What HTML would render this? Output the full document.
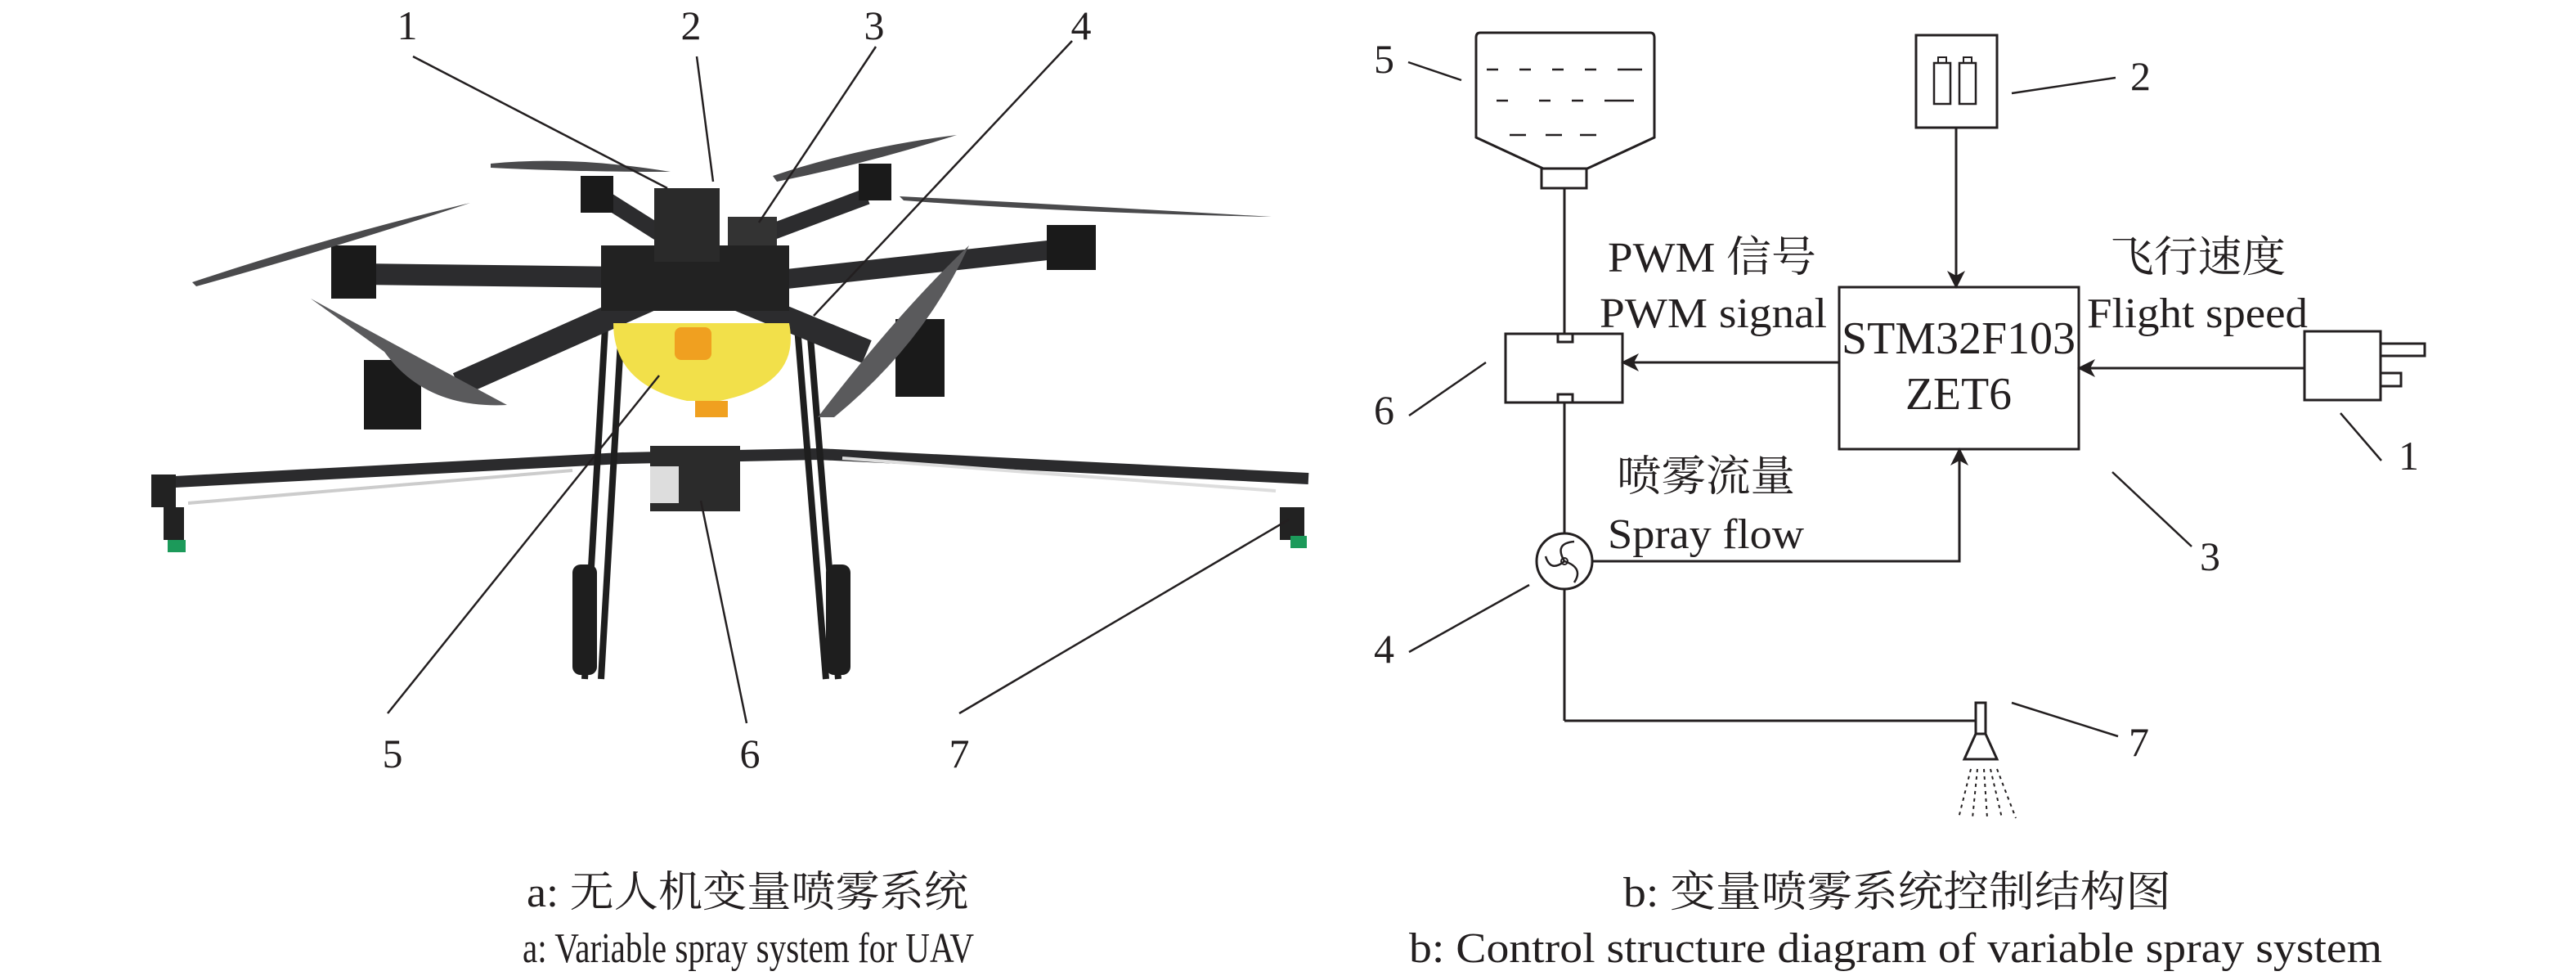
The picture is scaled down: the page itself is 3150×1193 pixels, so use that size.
<!DOCTYPE html>
<html><head><meta charset="utf-8"><style>
html,body{margin:0;padding:0;background:#fff;}
svg{display:block;}
text{font-family:"Liberation Serif","Noto Serif CJK SC",serif;fill:#231f20;}
</style></head><body>
<svg width="3150" height="1193" viewBox="0 0 3150 1193" xmlns="http://www.w3.org/2000/svg">
<defs>
<marker id="ah" markerWidth="22" markerHeight="22" refX="20" refY="11" orient="auto" markerUnits="userSpaceOnUse" viewBox="0 0 22 22">
<path d="M0,0 L22,11 L0,22 L6,11 z" fill="#231f20"/>
</marker>
</defs>

<!-- ===== Left: drone photo sketch ===== -->
<g>
  <path d="M195,590 L760,560 L1000,555 L1600,585" stroke="#2b2b2d" stroke-width="14" fill="none"/>
  <path d="M230,615 L700,575" stroke="#ccc" stroke-width="4" fill="none"/>
  <path d="M1030,560 L1560,600" stroke="#ddd" stroke-width="4" fill="none"/>
  <rect x="185" y="580" width="30" height="40" fill="#222"/>
  <rect x="200" y="620" width="25" height="40" fill="#222"/>
  <rect x="205" y="660" width="22" height="15" fill="#1c9a5a"/>
  <rect x="1565" y="620" width="30" height="40" fill="#222"/>
  <rect x="1578" y="655" width="20" height="15" fill="#1c9a5a"/>
  <path d="M740,400 L715,830 M760,400 L735,830" stroke="#1e1e1e" stroke-width="8"/>
  <path d="M975,400 L1010,830 M990,400 L1025,830" stroke="#1e1e1e" stroke-width="8"/>
  <rect x="700" y="690" width="30" height="135" rx="10" fill="#1e1e1e"/>
  <rect x="1010" y="690" width="30" height="135" rx="10" fill="#1e1e1e"/>
  <path d="M850,340 L440,335" stroke="#2c2c2e" stroke-width="26"/>
  <path d="M830,350 L560,470" stroke="#2c2c2e" stroke-width="30"/>
  <path d="M880,350 L1290,305" stroke="#2c2c2e" stroke-width="24"/>
  <path d="M890,360 L1060,430" stroke="#2c2c2e" stroke-width="30"/>
  <path d="M830,300 L735,240 M900,300 L1060,240" stroke="#2c2c2e" stroke-width="20"/>
  <rect x="405" y="300" width="55" height="65" fill="#1a1a1a"/>
  <rect x="445" y="440" width="70" height="85" fill="#1a1a1a"/>
  <rect x="1280" y="275" width="60" height="55" fill="#1a1a1a"/>
  <rect x="1095" y="390" width="60" height="95" fill="#1a1a1a"/>
  <rect x="710" y="215" width="40" height="45" fill="#1a1a1a"/>
  <rect x="1050" y="200" width="40" height="45" fill="#1a1a1a"/>
  <path d="M235,345 Q400,290 575,248 Q420,300 240,350 z" fill="#4a4a4c"/>
  <path d="M380,365 Q480,420 620,495 Q520,500 470,430 z" fill="#5a5a5c"/>
  <path d="M600,200 Q700,190 820,210 Q700,210 600,205 z" fill="#4a4a4c"/>
  <path d="M945,215 Q1050,180 1170,165 Q1060,200 950,222 z" fill="#4a4a4c"/>
  <path d="M1100,240 Q1300,250 1555,265 Q1300,260 1105,245 z" fill="#4a4a4c"/>
  <path d="M1000,510 Q1100,380 1185,300 Q1130,420 1020,510 z" fill="#5a5a5c"/>
  <rect x="735" y="300" width="230" height="80" fill="#222"/>
  <rect x="800" y="230" width="80" height="90" fill="#2a2a2a"/>
  <rect x="890" y="265" width="60" height="35" fill="#333"/>
  <path d="M750,395 L965,395 Q980,470 880,490 L840,490 Q750,470 750,395 z" fill="#f2e04a"/>
  <rect x="825" y="400" width="45" height="40" rx="8" fill="#f0a020"/>
  <rect x="850" y="490" width="40" height="20" fill="#f0a020"/>
  <rect x="795" y="545" width="110" height="80" fill="#2b2b2b"/>
  <rect x="795" y="570" width="35" height="45" fill="#ddd"/>
</g>

<g stroke="#231f20" stroke-width="2.5">
  <line x1="505" y1="69" x2="816" y2="230"/>
  <line x1="852" y1="69" x2="872" y2="222"/>
  <line x1="1071" y1="57" x2="928" y2="272"/>
  <line x1="1311" y1="50" x2="995" y2="386"/>
  <line x1="474" y1="872" x2="806" y2="459"/>
  <line x1="913" y1="884" x2="857" y2="612"/>
  <line x1="1173" y1="872" x2="1576" y2="635"/>
</g>
<g font-size="50" text-anchor="middle">
  <text x="498" y="48">1</text>
  <text x="845" y="48">2</text>
  <text x="1069" y="48">3</text>
  <text x="1322" y="48">4</text>
  <text x="480" y="938">5</text>
  <text x="917" y="938">6</text>
  <text x="1173" y="938">7</text>
</g>
<text x="914" y="1108" font-size="52" text-anchor="middle" textLength="540" lengthAdjust="spacingAndGlyphs">a: 无人机变量喷雾系统</text>
<text x="915" y="1176" font-size="52" text-anchor="middle" textLength="552" lengthAdjust="spacingAndGlyphs">a:  Variable spray system for UAV</text>

<!-- ===== Right: control diagram ===== -->
<g stroke="#231f20" stroke-width="3" fill="none">
  <path d="M1810,40 L2018,40 Q2023,40 2023,46 L2023,168 L1941,206 L1887,206 L1805,168 L1805,46 Q1805,40 1810,40 z"/>
  <rect x="1885" y="206" width="55" height="24"/>
  <g stroke-width="2.5">
    <path d="M1818,85 h14 M1858,85 h14 M1898,85 h14 M1938,85 h14 M1978,85 h30"/>
    <path d="M1830,123 h14 M1882,123 h14 M1922,123 h14 M1962,123 h36"/>
    <path d="M1846,165 h20 M1890,165 h20 M1932,165 h20"/>
  </g>
  <line x1="1913" y1="230" x2="1913" y2="408"/>
  <rect x="1841" y="408" width="143" height="84"/>
  <rect x="1905" y="408" width="18" height="10"/>
  <rect x="1905" y="482" width="18" height="10"/>
  <line x1="1913" y1="492" x2="1913" y2="652"/>
  <circle cx="1913" cy="686" r="34"/>
  <path d="M1913,686 Q1900,664 1925,662 M1913,686 Q1937,694 1925,712 M1913,686 Q1896,700 1890,680" stroke-width="2.5"/>
  <circle cx="1913" cy="686" r="4" stroke-width="2"/>
  <line x1="1913" y1="720" x2="1913" y2="881"/>
  <line x1="1913" y1="881" x2="2416" y2="881"/>
  <rect x="2416" y="859" width="12" height="38"/>
  <path d="M2416,897 L2428,897 L2442,928 L2402,928 z"/>
  <g stroke-width="2" stroke-dasharray="4,5">
    <line x1="2410" y1="940" x2="2395" y2="1000"/>
    <line x1="2418" y1="940" x2="2412" y2="1000"/>
    <line x1="2426" y1="940" x2="2430" y2="1000"/>
    <line x1="2434" y1="940" x2="2448" y2="1000"/>
    <line x1="2442" y1="940" x2="2465" y2="1000"/>
  </g>
  <rect x="2249" y="351" width="293" height="198"/>
  <rect x="2343" y="43" width="99" height="113"/>
  <rect x="2365" y="77" width="20" height="50" stroke-width="2.5"/>
  <rect x="2370" y="70" width="10" height="7" stroke-width="2"/>
  <rect x="2396" y="77" width="20" height="50" stroke-width="2.5"/>
  <rect x="2401" y="70" width="10" height="7" stroke-width="2"/>
  <rect x="2818" y="405" width="93" height="84"/>
  <rect x="2911" y="420" width="54" height="15"/>
  <rect x="2911" y="456" width="25" height="16"/>
</g>
<g stroke="#231f20" stroke-width="3" fill="none">
  <line x1="2392" y1="156" x2="2392" y2="351" marker-end="url(#ah)"/>
  <line x1="2249" y1="443" x2="1984" y2="443" marker-end="url(#ah)"/>
  <line x1="2818" y1="450" x2="2542" y2="450" marker-end="url(#ah)"/>
  <polyline points="1947,686 2396,686 2396,549" marker-end="url(#ah)"/>
</g>
<g stroke="#231f20" stroke-width="2.5">
  <line x1="1722" y1="76" x2="1787" y2="98"/>
  <line x1="2460" y1="114" x2="2587" y2="95"/>
  <line x1="1817" y1="443" x2="1723" y2="508"/>
  <line x1="2862" y1="505" x2="2912" y2="563"/>
  <line x1="2583" y1="577" x2="2680" y2="668"/>
  <line x1="1870" y1="715" x2="1723" y2="797"/>
  <line x1="2460" y1="859" x2="2590" y2="900"/>
</g>
<g font-size="50">
  <text x="1680" y="89">5</text>
  <text x="2605" y="110">2</text>
  <text x="1680" y="518">6</text>
  <text x="2933" y="574">1</text>
  <text x="2690" y="697">3</text>
  <text x="1680" y="810">4</text>
  <text x="2603" y="924">7</text>
</g>
<g font-size="52">
  <text x="1966" y="332" textLength="255" lengthAdjust="spacingAndGlyphs">PWM 信号</text>
  <text x="1956" y="400" textLength="278" lengthAdjust="spacingAndGlyphs">PWM signal</text>
  <text x="2580" y="332" textLength="215" lengthAdjust="spacingAndGlyphs">飞行速度</text>
  <text x="2552" y="400" textLength="270" lengthAdjust="spacingAndGlyphs">Flight speed</text>
  <text x="1977" y="600" textLength="218" lengthAdjust="spacingAndGlyphs">喷雾流量</text>
  <text x="1966" y="670" textLength="240" lengthAdjust="spacingAndGlyphs">Spray flow</text>
  <text x="2395" y="432" font-size="56" text-anchor="middle" textLength="286" lengthAdjust="spacingAndGlyphs">STM32F103</text>
  <text x="2395" y="500" font-size="56" text-anchor="middle" textLength="130" lengthAdjust="spacingAndGlyphs">ZET6</text>
</g>
<text x="2320" y="1108" font-size="52" text-anchor="middle" textLength="670" lengthAdjust="spacingAndGlyphs">b: 变量喷雾系统控制结构图</text>
<text x="2318" y="1176" font-size="52" text-anchor="middle" textLength="1190" lengthAdjust="spacingAndGlyphs">b: Control structure diagram of variable spray system</text>
</svg>
</body></html>
